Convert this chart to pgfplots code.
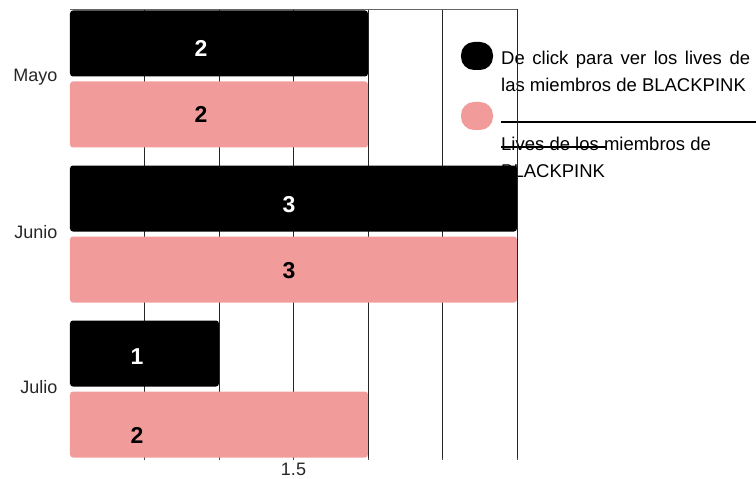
\documentclass[border=0pt]{standalone}
\usepackage{fontspec}
\setmainfont{Liberation Sans}
\usepackage{pgfplots}
\pgfplotsset{compat=1.18}
\definecolor{pinkbar}{RGB}{241,155,154}
\begin{document}
\begin{tikzpicture}[x=1pt,y=1pt]
\path[use as bounding box] (-70,-21) rectangle (686,458);
% legend (drawn first, so the chart paints over it)
\fill[black, rounded corners=13pt] (391,388) rectangle (423,416);
\fill[pinkbar, rounded corners=13pt] (391,328) rectangle (423,356);
\node[anchor=base west, inner sep=0, font=\fontsize{18.5}{22}\selectfont] at (431,393) {\makebox[249pt][s]{De click para ver los lives de}};
\node[anchor=base west, inner sep=0, font=\fontsize{18.5}{22}\selectfont] at (431,366) {las miembros de BLACKPINK};
\draw[line width=1.5pt] (431,336) -- (686,336);
\node[anchor=base west, inner sep=0, font=\fontsize{18.5}{22}\selectfont] at (431,307) {Lives de los miembros de};
\node[anchor=base west, inner sep=0, font=\fontsize{18.5}{22}\selectfont] at (431,280) {BLACKPINK};
\draw[line width=1.2pt] (431,311) -- (536,311);
\begin{axis}[
  at={(0,0)}, anchor=south west,
  scale only axis, width=447pt, height=449pt,
  xmin=0, xmax=3, ymin=-0.445, ymax=2.4516,
  clip=false,
  xtick={0.5,1,1.5,2,2.5,3},
  xticklabels={,,1.5,,,},
  ytick={0,1,2},
  yticklabels={Julio,Junio,Mayo},
  /pgf/number format/assume math mode=true,
  xmajorgrids,
  major grid style={black!85, line width=0.8pt},
  axis line style={draw=none},
  xtick pos=left, tick align=outside,
  major tick length=2pt,
  x tick style={black!70, line width=0.6pt},
  y tick style={draw=none},
  tick label style={font=\fontsize{18}{22}\selectfont, text=black!85},
  yticklabel style={yshift=2pt, xshift=-7pt},
]
\addplot[xbar, bar width=66pt, bar shift=35.5pt, fill=black, draw=none, rounded corners=3pt] coordinates {(2,2) (3,1) (1,0)};
\addplot[xbar, bar width=66pt, bar shift=-35.5pt, fill=pinkbar, draw=none, rounded corners=3pt] coordinates {(2,2) (3,1) (2,0)};
\addplot[draw=none, mark=none, nodes near coords, point meta=explicit symbolic,
  nodes near coords style={font=\bfseries\fontsize{23}{26}\selectfont, white, anchor=center, inner sep=0}]
  coordinates {(0.879,2.194) [2] (1.470,1.187) [3] (0.450,0.210) [1]};
\addplot[draw=none, mark=none, nodes near coords, point meta=explicit symbolic,
  nodes near coords style={font=\bfseries\fontsize{23}{26}\selectfont, black, anchor=center, inner sep=0}]
  coordinates {(0.879,1.768) [2] (1.470,0.761) [3] (0.450,-0.302) [2]};
\draw[black!60, line width=0.8pt] (rel axis cs:0,1) -- (rel axis cs:1,1);
\end{axis}
\end{tikzpicture}
\end{document}
